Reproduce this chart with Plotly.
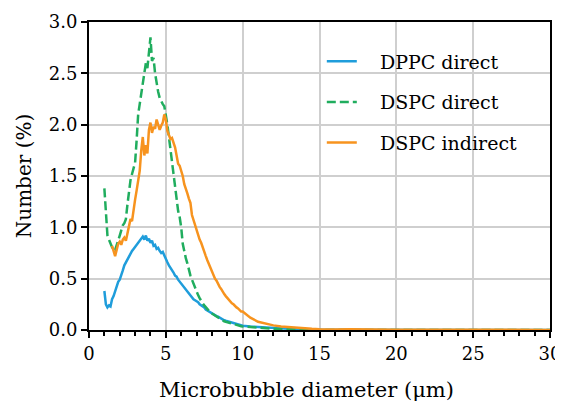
import plotly.graph_objects as go

# ---- data ----
diam_fine = [1.0, 1.1, 1.2, 1.3, 1.4, 1.5, 1.6, 1.7, 1.8, 1.9,
             2.0, 2.1, 2.2, 2.3, 2.4, 2.5, 2.6, 2.7, 2.8, 2.9,
             3.0, 3.1, 3.2, 3.3, 3.4, 3.5, 3.6, 3.7, 3.8, 3.9,
             4.0, 4.1, 4.2, 4.3, 4.4, 4.5, 4.6, 4.7, 4.8, 4.9,
             5.0, 5.1, 5.2, 5.3, 5.4, 5.5, 5.6, 5.7, 5.8, 5.9,
             6.0, 6.1, 6.2, 6.3, 6.4, 6.5, 6.6, 6.7, 6.8, 6.9,
             7.0, 7.1, 7.2, 7.3, 7.4, 7.5, 7.6, 7.7, 7.8, 7.9,
             8.0, 8.1, 8.2, 8.3, 8.4, 8.5, 8.6, 8.7, 8.8, 8.9,
             9.0, 9.1, 9.2, 9.3, 9.4, 9.5, 9.6, 9.7, 9.8, 9.9, 10.0]
diam_tail = [10.5, 11.0, 11.5, 12.0, 12.5, 13.0, 13.5, 14.0, 14.5, 15.0,
             15.5, 16.0, 17.0, 18.0, 19.0, 20.0, 21.0, 22.0, 23.0, 24.0,
             25.0, 26.0, 27.0, 28.0, 29.0, 30.0]

dppc_direct_fine = [0.38, 0.25, 0.22, 0.24, 0.23, 0.30, 0.33, 0.38, 0.42, 0.47,
                    0.49, 0.55, 0.58, 0.63, 0.66, 0.68, 0.72, 0.74, 0.77, 0.79,
                    0.81, 0.83, 0.86, 0.87, 0.89, 0.91, 0.88, 0.92, 0.87, 0.89,
                    0.85, 0.87, 0.82, 0.83, 0.79, 0.80, 0.77, 0.75, 0.76, 0.72,
                    0.70, 0.66, 0.63, 0.61, 0.58, 0.56, 0.53, 0.52, 0.49, 0.47,
                    0.45, 0.43, 0.41, 0.39, 0.37, 0.35, 0.33, 0.32, 0.30, 0.29,
                    0.28, 0.27, 0.25, 0.24, 0.23, 0.22, 0.20, 0.19, 0.18, 0.17,
                    0.16, 0.155, 0.145, 0.135, 0.13, 0.12, 0.11, 0.105, 0.095, 0.09,
                    0.085, 0.08, 0.075, 0.07, 0.065, 0.06, 0.055, 0.05, 0.048, 0.045, 0.042]
dppc_direct_tail = [0.035, 0.03, 0.022, 0.018, 0.012, 0.008, 0.005, 0.003, 0.002, 0.002,
                    0.001, 0.001, 0.0, 0.0, 0.0, 0.0, 0.0, 0.0, 0.0, 0.0,
                    0.0, 0.0, 0.0, 0.0, 0.0, 0.0]

dspc_direct_fine = [1.38, 1.10, 0.92, 0.88, 0.84, 0.80, 0.77, 0.78, 0.82, 0.86,
                    0.92, 0.97, 1.02, 1.04, 1.08, 1.22, 1.36, 1.46, 1.52, 1.57,
                    1.63, 1.85, 2.10, 2.20, 2.30, 2.42, 2.52, 2.60, 2.55, 2.72,
                    2.85, 2.62, 2.65, 2.50, 2.40, 2.32, 2.26, 2.22, 2.20, 2.18,
                    2.10, 2.00, 1.88, 1.76, 1.62, 1.50, 1.40, 1.28, 1.16, 1.10,
                    1.00, 0.84, 0.76, 0.70, 0.65, 0.58, 0.53, 0.49, 0.45, 0.42,
                    0.38, 0.34, 0.31, 0.28, 0.26, 0.24, 0.22, 0.20, 0.185, 0.17,
                    0.16, 0.15, 0.14, 0.13, 0.12, 0.11, 0.10, 0.095, 0.085, 0.08,
                    0.075, 0.07, 0.065, 0.06, 0.055, 0.05, 0.047, 0.043, 0.04, 0.037, 0.035]
dspc_direct_tail = [0.028, 0.022, 0.016, 0.012, 0.008, 0.005, 0.003, 0.002, 0.001, 0.001,
                    0.0, 0.0, 0.0, 0.0, 0.0, 0.0, 0.0, 0.0, 0.0, 0.0,
                    0.0, 0.0, 0.0, 0.0, 0.0, 0.0]

dspc_indirect_fine = [None, None, None, None, None, 0.82, 0.76, 0.72, 0.78, 0.84,
                      0.86, 0.83, 0.88, 0.90, 0.87, 0.95, 1.02, 1.08, 1.06, 1.18,
                      1.27, 1.36, 1.48, 1.55, 1.75, 1.88, 1.70, 1.80, 1.72, 1.95,
                      2.02, 1.92, 1.98, 1.96, 2.05, 2.00, 1.95, 1.99, 2.02, 2.10,
                      2.05, 1.94, 1.90, 1.86, 1.87, 1.82, 1.78, 1.70, 1.62, 1.60,
                      1.56, 1.50, 1.42, 1.36, 1.33, 1.28, 1.24, 1.12, 1.07, 1.02,
                      0.97, 0.92, 0.88, 0.85, 0.80, 0.77, 0.72, 0.68, 0.64, 0.60,
                      0.56, 0.53, 0.50, 0.48, 0.44, 0.42, 0.40, 0.37, 0.35, 0.33,
                      0.31, 0.29, 0.28, 0.26, 0.25, 0.23, 0.22, 0.21, 0.19, 0.18, 0.18]
dspc_indirect_tail = [0.12, 0.08, 0.06, 0.045, 0.035, 0.028, 0.02, 0.015, 0.012, 0.008,
                      0.006, 0.005, 0.008, 0.004, 0.006, 0.003, 0.002, 0.004, 0.002, 0.003,
                      0.002, 0.001, 0.002, 0.001, 0.001, 0.001]

series_names = ["DPPC direct", "DSPC direct", "DSPC indirect"]
series_colors = ["#1f9ddb", "#20ad5e", "#f7931e"]
x_title = "Microbubble diameter (μm)"
y_title = "Number (%)"

FONT = "DejaVu Serif"

fig = go.Figure()
data = [
    (dppc_direct_fine + dppc_direct_tail, "solid"),
    (dspc_direct_fine + dspc_direct_tail, "9px,4px"),
    (dspc_indirect_fine + dspc_indirect_tail, "solid"),
]
xs = diam_fine + diam_tail
for (ys, dash), name, color in zip(data, series_names, series_colors):
    fig.add_trace(go.Scatter(
        x=xs, y=ys, mode="lines", name="\u00a0\u00a0\u00a0" + name,
        line=dict(color=color, width=2.5, dash=dash),
        legendgroup=name,
    ))

axis_common = dict(
    showline=True, linecolor="black", linewidth=2, mirror=True,
    ticks="outside", tickcolor="black", tickwidth=1.5, ticklen=6,
    showgrid=True, gridcolor="#cfcfcf", gridwidth=1.5,
    zeroline=False, automargin=False,
    tickfont=dict(family=FONT, size=18, color="black"),
)

fig.update_xaxes(
    range=[0, 30], tick0=0, dtick=5,
    minor=dict(ticks="outside", dtick=1, ticklen=4, tickcolor="black", tickwidth=1.5, showgrid=False),
    **axis_common,
)
fig.update_yaxes(
    range=[0, 3.0], tick0=0, dtick=0.5, tickformat=".1f",
    title=dict(text=y_title, font=dict(family=FONT, size=20, color="black"), standoff=12),
    **axis_common,
)

fig.add_annotation(
    text=x_title, xref="paper", yref="paper", x=0.4718, y=-0.195,
    xanchor="center", yanchor="middle", showarrow=False,
    font=dict(family=FONT, size=21, color="black"),
)

fig.update_layout(
    width=555, height=395,
    margin=dict(l=81, r=13, t=14, b=73),
    paper_bgcolor="white", plot_bgcolor="white",
    showlegend=True,
    legend=dict(
        x=0.505, y=0.934, xanchor="left", yanchor="top",
        bgcolor="rgba(255,255,255,0)", borderwidth=0,
        font=dict(family=FONT, size=19, color="black"),
        tracegroupgap=13,
    ),
)

fig.write_html("out.html")
